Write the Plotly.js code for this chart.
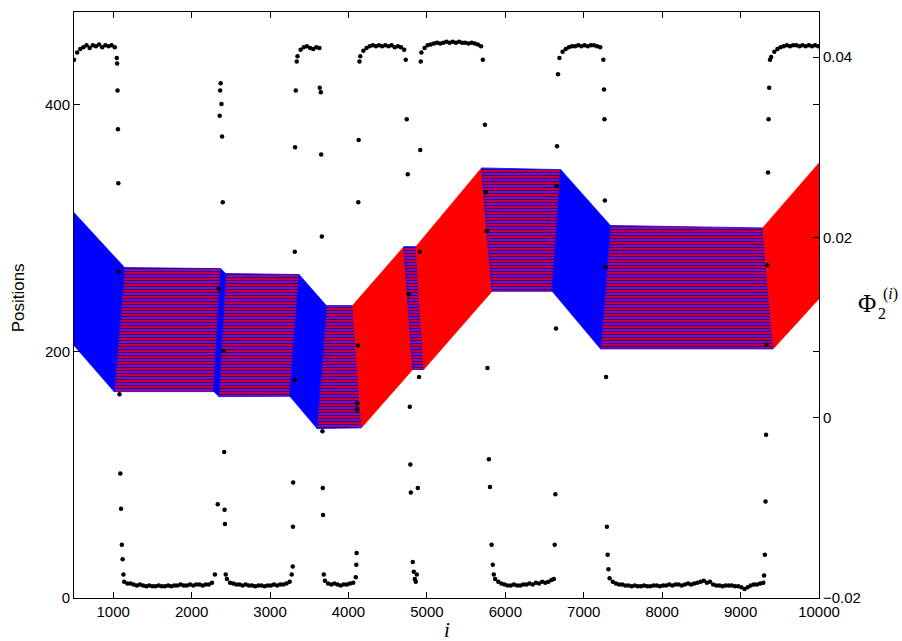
<!DOCTYPE html>
<html>
<head>
<meta charset="utf-8">
<script src="https://cdn.plot.ly/plotly-3.0.1.min.js"></script>
<style>html,body{margin:0;padding:0;background:#fff;}#chart{width:902px;height:641px;}</style>
</head>
<body>
<div id="chart"></div>
<script>
// ---- Band of positions: dividing edges (top point and bottom point of each edge) ----
const edgeTopI   = [500, 1147, 2371, 2435, 3370, 3719, 4051, 4705, 4858, 5696, 6708, 7342, 9281, 10000];
const edgeTopPos = [312.4, 267.8, 267.0, 263.0, 262.2, 237.0, 237.0, 284.8, 284.8, 348.6, 347.2, 301.9, 300.0, 352.7];
const edgeBotI   = [500, 1010, 2282, 2346, 3251, 3599, 4166, 4820, 4960, 5832, 6597, 7214, 9416, 10000];
const edgeBotPos = [204.6, 167.3, 167.3, 163.3, 163.5, 137.4, 137.9, 185.2, 185.2, 248.6, 248.6, 201.9, 201.9, 242.5];
const regionKind = ['blue','mixed','blue','mixed','blue','mixed','red','mixed','red','mixed','blue','mixed','red'];

// ---- Phi_2^(i) dots: plateaus (start index, step 40) ----
const plateauStep = 40;
const phiHigh1 = {start: 500,  v: [0.0397,0.0405,0.0409,0.0411,0.0413,0.0410,0.0413,0.0412,0.0414,0.0411,0.0413,0.0412,0.0413,0.0411]};
const phiLow1  = {start: 1140, v: [-0.0182,-0.0184,-0.0184,-0.0185,-0.0186,-0.0185,-0.0186,-0.0187,-0.0186,-0.0187,-0.0187,-0.0186,-0.0187,-0.0187,-0.0186,-0.0187,-0.0186,-0.0186,-0.0185,-0.0186,-0.0186,-0.0185,-0.0186,-0.0185,-0.0185,-0.0186,-0.0185,-0.0185,-0.0183]};
const phiLow2  = {start: 2450, v: [-0.0179,-0.0183,-0.0184,-0.0185,-0.0185,-0.0186,-0.0185,-0.0186,-0.0186,-0.0187,-0.0186,-0.0186,-0.0187,-0.0186,-0.0186,-0.0185,-0.0186,-0.0185,-0.0185,-0.0184,-0.0182]};
const phiHigh2 = {start: 3350, v: [0.0401,0.0408,0.0411,0.0412,0.0410,0.0409,0.0411,0.0410]};
const phiLow3  = {start: 3700, v: [-0.0181,-0.0184,-0.0185,-0.0184,-0.0185,-0.0186,-0.0185,-0.0185,-0.0184,-0.0183]};
const phiHigh3 = {start: 4150, v: [0.0401,0.0407,0.0410,0.0412,0.0413,0.0412,0.0413,0.0412,0.0413,0.0412,0.0413,0.0411,0.0412,0.0411,0.0408]};
const phiHigh4 = {start: 4930, v: [0.0405,0.0410,0.0413,0.0414,0.0415,0.0416,0.0415,0.0416,0.0417,0.0416,0.0417,0.0416,0.0417,0.0416,0.0416,0.0415,0.0416,0.0415,0.0414,0.0412]};
const phiLow4  = {start: 5870, v: [-0.0179,-0.0182,-0.0184,-0.0185,-0.0186,-0.0186,-0.0185,-0.0186,-0.0186,-0.0185,-0.0185,-0.0184,-0.0185,-0.0183,-0.0184,-0.0182,-0.0183,-0.0182,-0.0180]};
const phiHigh5 = {start: 6690, v: [0.0399,0.0406,0.0409,0.0411,0.0412,0.0412,0.0413,0.0412,0.0413,0.0412,0.0413,0.0413,0.0412,0.0411]};
const phiLow5  = {start: 7330, v: [-0.0178,-0.0182,-0.0184,-0.0185,-0.0185,-0.0186,-0.0186,-0.0187,-0.0186,-0.0187,-0.0187,-0.0186,-0.0187,-0.0187,-0.0186,-0.0186,-0.0187,-0.0186,-0.0186,-0.0185,-0.0186,-0.0185,-0.0185,-0.0186,-0.0185,-0.0184,-0.0185,-0.0184,-0.0183,-0.0182,-0.0181,-0.0183,-0.0182,-0.0185,-0.0186,-0.0186,-0.0187,-0.0186,-0.0186,-0.0186,-0.0187,-0.0187,-0.0188,-0.0190,-0.0188,-0.0186,-0.0185,-0.0185,-0.0184,-0.0183]};
const phiHigh6 = {start: 9390, v: [0.0400,0.0406,0.0409,0.0411,0.0412,0.0413,0.0412,0.0413,0.0413,0.0412,0.0413,0.0412,0.0413,0.0412,0.0413,0.0412]};

// ---- Phi transition dots (explicit index / value) ----
const transI = [
  1045,1050,1055,1060,1065,1070,1080,1090,1100,1110,1120,1130,
  2297,2333,2346,2358,2364,2370,2380,2388,2397,2409,2415,2420,2425,2435,
  3276,3289,3292,3295,3311,3315,3319,3328,3340,
  3634,3647,3652,3660,3668,3672,3676,3685,
  4093,4100,4104,4108,4112,4120,4125,4130,4140,
  4730,4743,4756,4769,4782,4789,4795,4820,4833,4846,4858,4871,4884,4900,4909,4915,4922,
  5713,5740,5752,5762,5772,5790,5805,5825,5840,5853,
  6619,6630,6638,6646,6653,6660,6672,
  7250,7258,7264,7269,7278,7285,7295,7305,7315,
  9300,9310,9318,9325,9332,9340,9350,9357,9365,9375
];
const transV = [
  0.0399,0.0393,0.0363,0.0320,0.0260,0.0162,0.0026,-0.0062,-0.0101,-0.0141,-0.0157,-0.0174,
  -0.0174,-0.0096,0.0143,0.0335,0.0363,0.0371,0.0348,0.0312,0.0239,0.0074,-0.0038,-0.0102,-0.0118,-0.0174,
  -0.0174,-0.0165,-0.0121,-0.0072,0.0042,0.0184,0.0300,0.0363,0.0395,
  0.0366,0.0361,0.0292,0.0201,-0.0015,-0.0078,-0.0108,-0.0174,
  -0.0177,-0.0163,-0.0150,0.0009,0.0016,0.0080,0.0239,0.0308,0.0395,
  0.0397,0.0331,0.0270,0.0137,0.0012,-0.0052,-0.0083,-0.0160,-0.0171,-0.0179,-0.0182,-0.0174,-0.0078,0.0045,0.0184,0.0297,0.0395,
  0.0397,0.0325,0.0250,0.0207,0.0055,-0.0046,-0.0077,-0.0141,-0.0163,-0.0174,
  -0.0179,-0.0141,-0.0085,0.0099,0.0257,0.0301,0.0381,
  0.0397,0.0364,0.0331,0.0241,0.0167,0.0045,-0.0121,-0.0152,-0.0168,
  -0.0175,-0.0152,-0.0093,-0.0019,0.0081,0.0169,0.0272,0.0331,0.0366,0.0397
];

// ---- Axis ticks ----
const xTicks  = [1000,2000,3000,4000,5000,6000,7000,8000,9000,10000];
const yTicks  = [0,200,400];
const y2Ticks = [-0.02,0,0.02,0.04];
const y2TickText = ['\u22120.02','0','0.02','0.04'];

const traces = [];
for (let k = 0; k < regionKind.length; k++) {
  const kind = regionKind[k];
  const t = {
    type: 'scatter', mode: 'lines', fill: 'toself', hoverinfo: 'skip', showlegend: false,
    x: [edgeTopI[k], edgeTopI[k+1], edgeBotI[k+1], edgeBotI[k], edgeTopI[k]],
    y: [edgeTopPos[k], edgeTopPos[k+1], edgeBotPos[k+1], edgeBotPos[k], edgeTopPos[k]],
    xaxis: 'x', yaxis: 'y'
  };
  if (kind === 'blue') { t.fillcolor = '#0000ff'; t.line = {color: '#0000ff', width: 0.6}; }
  else if (kind === 'red') { t.fillcolor = '#ff0000'; t.line = {color: '#ff0000', width: 0.6}; }
  else {
    t.fillcolor = '#ff0000';
    t.fillpattern = {shape: '-', fgcolor: '#0000ff', bgcolor: '#ff0000', size: 3, solidity: 0.5, fillmode: 'replace'};
    t.line = {color: '#0000ff', width: 0.8};
  }
  traces.push(t);
}

const phiX = [], phiY = [];
[phiHigh1, phiLow1, phiLow2, phiHigh2, phiLow3, phiHigh3, phiHigh4, phiLow4, phiHigh5, phiLow5, phiHigh6].forEach(seg => {
  seg.v.forEach((v, j) => { phiX.push(seg.start + j * plateauStep); phiY.push(v); });
});
transI.forEach((i, j) => { phiX.push(i); phiY.push(transV[j]); });

traces.push({
  type: 'scatter', mode: 'markers', x: phiX, y: phiY, xaxis: 'x', yaxis: 'y2',
  marker: {color: '#000000', size: 4.5}, hoverinfo: 'skip', showlegend: false
});

const tickFont = {family: 'Liberation Sans, Arial, sans-serif', size: 15, color: '#000'};
const layout = {
  width: 902, height: 641,
  margin: {l: 74, r: 83, t: 12, b: 43, pad: 0},
  paper_bgcolor: '#fff', plot_bgcolor: '#fff',
  showlegend: false,
  xaxis: {range: [500, 10000], tickvals: xTicks, ticktext: xTicks.map(String), ticks: 'inside', ticklen: 6,
          tickcolor: '#000', showline: true, linecolor: '#000', linewidth: 1, mirror: 'ticks',
          showgrid: false, zeroline: false, tickfont: tickFont},
  yaxis: {range: [0, 475], tickvals: yTicks, ticktext: yTicks.map(String), ticks: 'inside', ticklen: 6,
          tickcolor: '#000', showline: true, linecolor: '#000', linewidth: 1, mirror: 'ticks',
          showgrid: false, zeroline: false, tickfont: tickFont},
  yaxis2: {range: [-0.02, 0.045], overlaying: 'y', side: 'right', tickvals: y2Ticks, ticktext: y2TickText,
           ticks: 'inside', ticklen: 6, tickcolor: '#000', showline: true, linecolor: '#000', linewidth: 1,
           showgrid: false, zeroline: false, tickfont: tickFont},
  annotations: [
    {text: 'Positions', xref: 'paper', yref: 'paper', x: -0.0752, y: 0.513, textangle: -90,
     showarrow: false, xanchor: 'center', yanchor: 'middle', font: {family: 'Liberation Sans, Arial, sans-serif', size: 17, color: '#000'}},
    {text: '<i>i</i>', xref: 'paper', yref: 'paper', x: 0.5007, y: -0.055, showarrow: false,
     xanchor: 'center', yanchor: 'middle', font: {family: 'Liberation Serif, Times New Roman, serif', size: 21, color: '#000'}},
    {text: '\u03A6', xref: 'paper', yref: 'paper', x: 1.0644, y: 0.5034, showarrow: false,
     xanchor: 'center', yanchor: 'middle', font: {family: 'Liberation Serif, Times New Roman, serif', size: 25, color: '#000'}},
    {text: '2', xref: 'paper', yref: 'paper', x: 1.0839, y: 0.4863, showarrow: false,
     xanchor: 'center', yanchor: 'middle', font: {family: 'Liberation Serif, Times New Roman, serif', size: 16, color: '#000'}},
    {text: '(<i>i</i>)', xref: 'paper', yref: 'paper', x: 1.0955, y: 0.5188, showarrow: false,
     xanchor: 'center', yanchor: 'middle', font: {family: 'Liberation Serif, Times New Roman, serif', size: 16, color: '#000'}}
  ]
};

Plotly.newPlot('chart', traces, layout, {displayModeBar: false, staticPlot: true});
</script>
</body>
</html>
